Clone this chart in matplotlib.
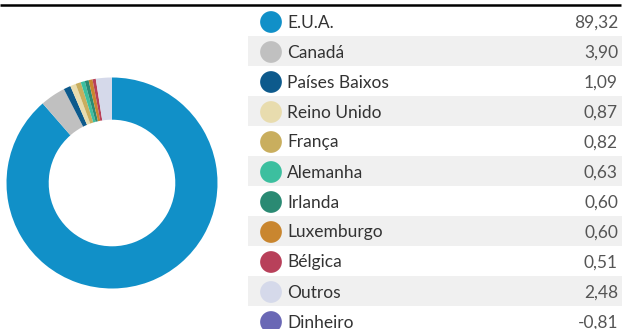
import matplotlib.pyplot as plt
from matplotlib.patches import Rectangle

paises = ['E.U.A.', 'Canadá', 'Países Baixos', 'Reino Unido', 'França',
          'Alemanha', 'Irlanda', 'Luxemburgo', 'Bélgica', 'Outros', 'Dinheiro']
pesos = [89.32, 3.90, 1.09, 0.87, 0.82, 0.63, 0.60, 0.60, 0.51, 2.48, -0.81]
cores = ['#1190c8', '#c0c0c0', '#0d5a8c', '#e8dcae', '#c9ae5e', '#3cbf9f',
         '#2a8a73', '#c9862f', '#b8405a', '#d5d9ea', '#6a68b5']

plt.rcParams['font.family'] = ['Lato', 'DejaVu Sans']

W, H = 622, 329
fig = plt.figure(figsize=(W / 100, H / 100), dpi=100)

# camada de fundo em pixels para a tabela
base = fig.add_axes([0, 0, 1, 1])
base.set_xlim(0, W)
base.set_ylim(H, 0)
base.axis('off')

base.plot([0, 621], [4.8, 4.8], color='black', lw=1.8, solid_capstyle='butt')

y0, passo = 21, 30
for i, (nome, val, cor) in enumerate(zip(paises, pesos, cores)):
    yc = y0 + passo * i
    if i % 2 == 1:
        base.add_patch(Rectangle((248, yc - 15), W - 248, 30,
                                 facecolor='#f0f0f0', edgecolor='none'))
    base.scatter([271], [yc + 1], s=245, color=cor, edgecolors='none', zorder=3)
    base.text(287, yc + 1.5, nome, fontsize=12.5, color='#333333',
              ha='left', va='center')
    base.text(618, yc + 1.5, f'{val:.2f}'.replace('.', ','), fontsize=12.5,
              color='#555555', ha='right', va='center')

# donut só com as posições positivas
pos = [(v, c) for v, c in zip(pesos, cores) if v > 0]
cx, cy, r = 112, 183, 105.5
ax = fig.add_axes([(cx - r) / W, 1 - (cy + r) / H, 2 * r / W, 2 * r / H])
ax.pie([v for v, _ in pos], colors=[c for _, c in pos], startangle=90,
       counterclock=False, radius=1, wedgeprops=dict(width=0.4, linewidth=0))
ax.set_xlim(-1, 1)
ax.set_ylim(-1, 1)
ax.set_aspect('equal')
ax.axis('off')

fig.savefig('out.png', dpi=100)
